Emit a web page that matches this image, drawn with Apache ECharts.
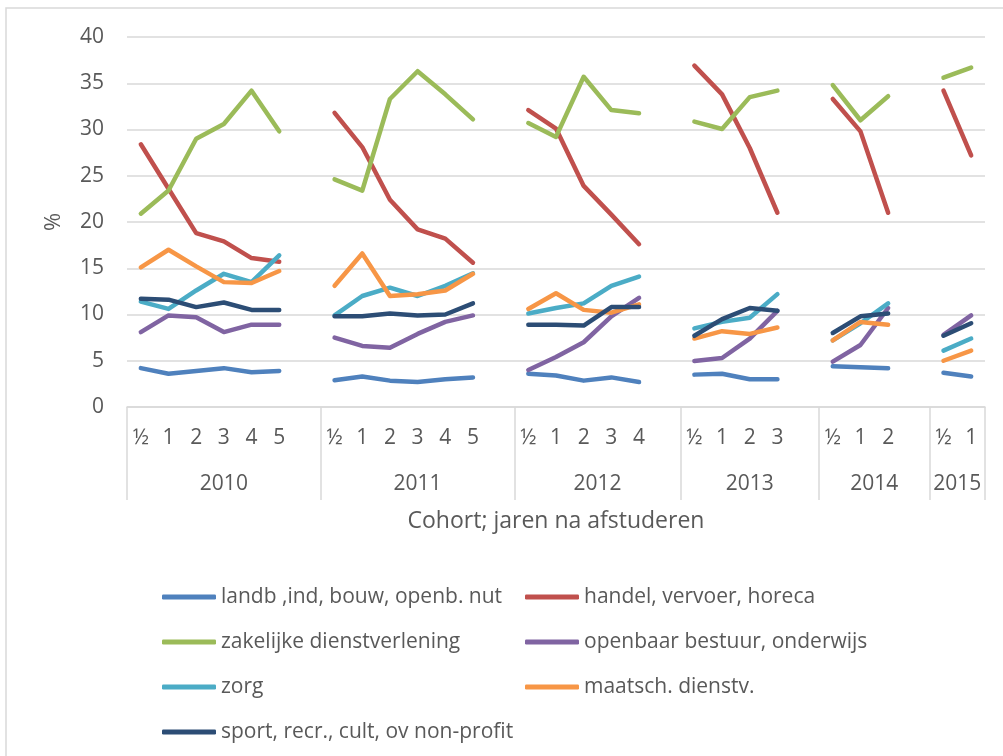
<!DOCTYPE html>
<html>
<head>
<meta charset="utf-8">
<script src="https://cdn.jsdelivr.net/npm/echarts@6/dist/echarts.min.js"></script>
<style>
  html, body { margin: 0; padding: 0; background: #fff; }
  #chart { width: 1003px; height: 756px; }
</style>
</head>
<body>
<div id="chart"></div>
<script>
// categories: years after graduation per cohort, '' = empty slot between cohorts
const categories = ['½','1','2','3','4','5','', '½','1','2','3','4','5','', '½','1','2','3','4','', '½','1','2','3','', '½','1','2','', '½','1']
const cohorts = ['2010', '2011', '2012', '2013', '2014', '2015']
const cohortCenters = [3.5, 10.5, 17, 22.5, 27, 30]
const cohortBounds = [0, 7, 14, 20, 25, 29, 31]
const yTicks = { min: 0, max: 40, interval: 5 }

const landb = [4.2,3.6,3.9,4.2,3.75,3.9,null, 2.9,3.3,2.85,2.7,3.0,3.2,null, 3.6,3.4,2.85,3.2,2.7,null, 3.5,3.6,3.0,3.0,null, 4.4,4.3,4.2,null, 3.7,3.3]
const handel = [28.4,23.6,18.8,17.9,16.1,15.7,null, 31.8,28.1,22.4,19.2,18.2,15.6,null, 32.1,30.1,23.9,20.8,17.6,null, 36.9,33.8,28.0,21.0,null, 33.3,29.8,21.0,null, 34.2,27.2]
const zakelijk = [20.9,23.4,29.0,30.6,34.2,29.8,null, 24.6,23.4,33.3,36.3,33.8,31.1,null, 30.7,29.2,35.7,32.1,31.75,null, 30.85,30.05,33.5,34.2,null, 34.8,31.0,33.6,null, 35.6,36.7]
const openbaar = [8.1,9.9,9.7,8.1,8.9,8.9,null, 7.5,6.6,6.4,7.9,9.2,9.9,null, 4.0,5.4,7.0,9.8,11.8,null, 4.97,5.3,7.4,10.4,null, 4.9,6.7,10.7,null, 7.8,9.9]
const zorg = [11.4,10.6,12.6,14.4,13.5,16.4,null, 9.9,12.0,12.9,12.0,13.1,14.45,null, 10.1,10.7,11.2,13.1,14.1,null, 8.5,9.2,9.65,12.2,null, 7.2,9.05,11.2,null, 6.1,7.4]
const maatsch = [15.1,17.0,15.2,13.5,13.4,14.7,null, 13.1,16.6,12.0,12.2,12.6,14.4,null, 10.6,12.3,10.5,10.2,11.1,null, 7.4,8.2,7.9,8.6,null, 7.2,9.2,8.9,null, 5.0,6.1]
const sport = [11.7,11.6,10.8,11.3,10.5,10.5,null, 9.8,9.8,10.1,9.9,10.0,11.2,null, 8.9,8.9,8.8,10.8,10.8,null, 7.7,9.5,10.7,10.4,null, 8.0,9.8,10.1,null, 7.7,9.05]

const seriesNames = [
  'landb ,ind, bouw, openb. nut',
  'handel, vervoer, horeca',
  'zakelijke dienstverlening',
  'openbaar bestuur, onderwijs',
  'zorg',
  'maatsch. dienstv.',
  'sport, recr., cult, ov non-profit'
]
const seriesData = [landb, handel, zakelijk, openbaar, zorg, maatsch, sport]
const colors = ['#4F81BD', '#C0504D', '#9BBB59', '#8064A2', '#4BACC6', '#F79646', '#2C4D75']

const font = '"Open Sans", "Noto Sans", sans-serif'
const textColor = '#595959'
const lineColor = '#D9D9D9'

const chart = echarts.init(document.getElementById('chart'))
chart.setOption({
  color: colors,
  textStyle: { fontFamily: font },
  graphic: [{
    type: 'rect',
    shape: { x: 6, y: 8, width: 1010, height: 760 },
    style: { fill: 'none', stroke: lineColor, lineWidth: 1.5 },
    silent: true
  }],
  grid: { left: 127, right: 18, top: 37, bottom: 349 },
  legend: [{
    data: [seriesNames[0], seriesNames[2], seriesNames[4], seriesNames[6]],
    orient: 'vertical', left: 157, top: 581,
    itemWidth: 54, itemHeight: 5, itemGap: 23,
    icon: 'roundRect',
    textStyle: { color: textColor, fontSize: 21, lineHeight: 22, fontFamily: font }
  }, {
    data: [seriesNames[1], seriesNames[3], seriesNames[5]],
    orient: 'vertical', left: 520, top: 581,
    itemWidth: 54, itemHeight: 5, itemGap: 23,
    icon: 'roundRect',
    textStyle: { color: textColor, fontSize: 21, lineHeight: 22, fontFamily: font }
  }],
  xAxis: [{
    type: 'category',
    data: categories,
    boundaryGap: true,
    axisLine: { lineStyle: { color: lineColor, width: 1.5 } },
    axisTick: { show: false },
    axisLabel: { interval: 0, color: textColor, fontSize: 21, margin: 21 }
  }, {
    type: 'value',
    min: 0,
    max: 31,
    position: 'bottom',
    axisLine: { show: false },
    splitLine: { show: false },
    axisTick: {
      show: true, length: 93, inside: false,
      customValues: cohortBounds,
      lineStyle: { color: lineColor, width: 1.5 }
    },
    axisLabel: {
      color: textColor, fontSize: 21, margin: 67,
      customValues: cohortCenters,
      formatter: v => cohorts[cohortCenters.indexOf(v)]
    },
    name: 'Cohort; jaren na afstuderen',
    nameLocation: 'middle',
    nameGap: 103,
    nameTextStyle: { color: textColor, fontSize: 23 }
  }],
  yAxis: {
    type: 'value',
    min: yTicks.min,
    max: yTicks.max,
    interval: yTicks.interval,
    axisLine: { show: false },
    axisTick: { show: false },
    axisLabel: { color: textColor, fontSize: 21, margin: 23 },
    splitLine: { lineStyle: { color: lineColor, width: 1.5 } },
    name: '%',
    nameLocation: 'middle',
    nameRotate: 90,
    nameGap: 62,
    nameTextStyle: { color: textColor, fontSize: 22 }
  },
  series: seriesNames.map((name, i) => ({
    name: name,
    type: 'line',
    data: seriesData[i],
    xAxisIndex: 0,
    symbol: 'none',
    connectNulls: false,
    lineStyle: { width: 4.5, cap: 'round', join: 'round' }
  }))
})
</script>
</body>
</html>
